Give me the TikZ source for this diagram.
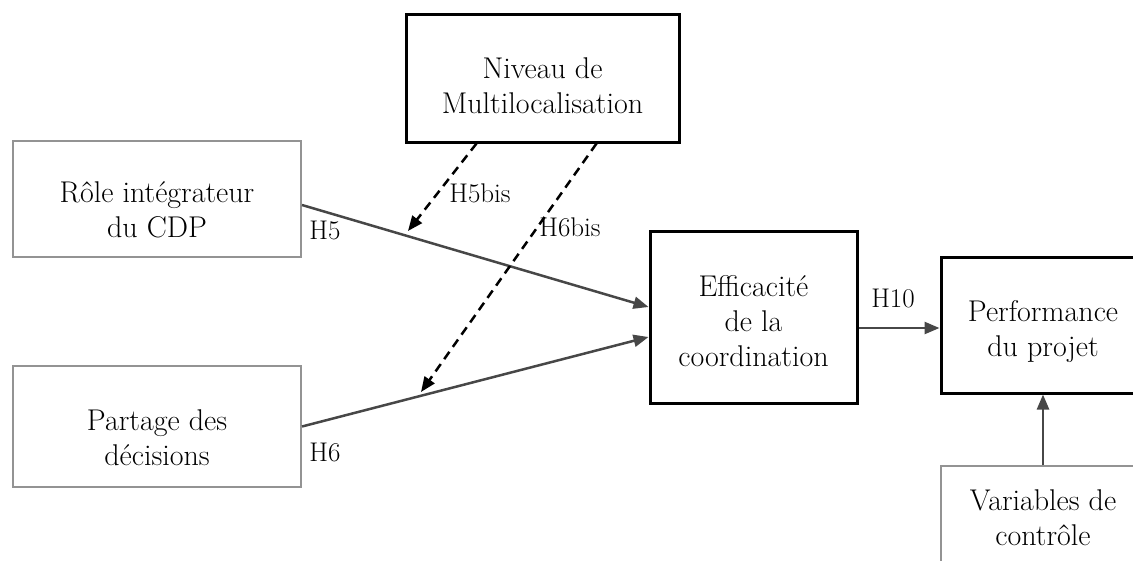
\documentclass[tikz,border=0pt]{standalone}
\usepackage{fontspec}
\usepackage{tikz}
\usetikzlibrary{arrows.meta}

% strut that pushes the text down in its box
\newcommand{\txtdrop}[1]{\rule{0pt}{#1}}

\tikzset{
	boxtxt/.style={font=\fontsize{30}{35}\selectfont, align=center, inner sep=0pt},
	darkbox/.style={boxtxt, draw=black, line width=3pt},
	greybox/.style={boxtxt, draw=gray!85, line width=2pt},
	hyp/.style={font=\fontsize{27}{30}\selectfont, inner sep=0pt},
	link/.style={draw=black!72, line width=2.5pt, -{Triangle[length=15pt,width=12pt]}},
	modlink/.style={draw=black, line width=2.5pt, dash pattern=on 9pt off 6pt, -{Triangle[length=15pt,width=12pt]}}
}

\begin{document}
\begin{tikzpicture}[x=1pt, y=-1pt]
	\useasboundingbox (0,0) rectangle (1133,560);

	% Boxes
	% Moderator
	\node[darkbox, minimum width=273pt, minimum height=128pt] (niv) at (542.5,78) {\txtdrop{37pt}Niveau de\\Multilocalisation};
	% Antecedents
	\node[greybox, minimum width=288pt, minimum height=116pt] (role) at (157,199) {\txtdrop{43pt}R\^ole int\'egrateur\\du CDP};
	\node[greybox, minimum width=288pt, minimum height=121pt] (part) at (157,426.5) {\txtdrop{43pt}Partage des\\d\'ecisions};
	% Mediator and outcome
	\node[darkbox, minimum width=207pt, minimum height=172pt] (eff) at (753.5,317) {\txtdrop{29pt}Efficacit\'e\\de la\\coordination};
	\node[darkbox, minimum width=204pt, minimum height=136pt] (perf) at (1043,325) {\txtdrop{35pt}Performance\\du projet};
	\node[greybox, minimum width=204pt, minimum height=104pt] (var) at (1043,518) {Variables de\\contr\^ole};

	% Direct effects
	\draw[link] ([yshift=-6pt]role.east) -- ([yshift=10pt]eff.west);
	\draw[link] (part.east) -- ([yshift=-20pt]eff.west);
	\draw[link] ([yshift=-11pt]eff.east) -- ([yshift=-11pt]eff.east -| perf.west);
	\draw[link] (var.north) -- (perf.south);

	% Moderating effects
	\coordinate (m5) at (408,231);
	\coordinate (m6) at (421,392);
	\draw[modlink] ([xshift=-66pt]niv.south) -- (m5);
	\draw[modlink] ([xshift=54pt]niv.south) -- (m6);

	% Hypothesis labels
	\node[hyp] (h5) at (325,230) {H5};
	\node[hyp] (h6) at (325,452) {H6};
	\node[hyp] (h5b) at (480,193) {H5bis};
	\node[hyp] (h6b) at (570,227) {H6bis};
	\node[hyp] (h10) at (893,298) {H10};

\end{tikzpicture}
\end{document}
